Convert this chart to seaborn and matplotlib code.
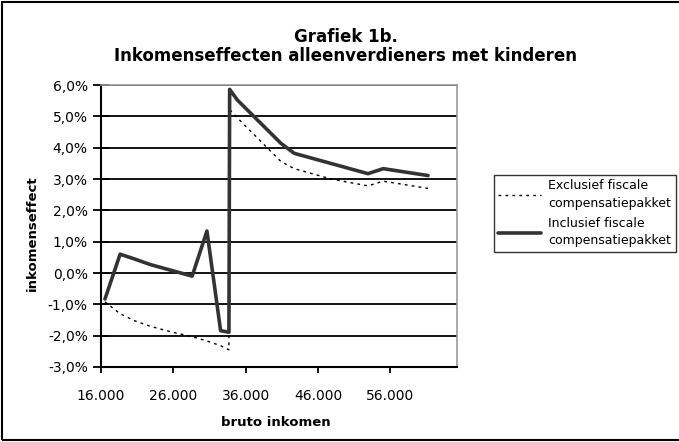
import matplotlib
matplotlib.use("Agg")
import numpy as np
import pandas as pd
import matplotlib.pyplot as plt
import seaborn as sns
from matplotlib.ticker import FuncFormatter, MultipleLocator
from matplotlib.patches import Rectangle

# values (bruto inkomen, inkomenseffect in %)
income_excl = [16550, 18640, 20600, 22800, 25700, 28600, 30640, 32530, 33680,
               33780, 34850, 40860, 42700, 47800, 52900, 55000, 61200]
effect_excl = [-0.92, -1.30, -1.52, -1.70, -1.88, -2.03, -2.17, -2.32, -2.45,
               5.22, 4.95, 3.56, 3.33, 3.00, 2.78, 2.93, 2.70]

income_incl = [16550, 18640, 20600, 22800, 28600, 30640, 32530, 33680,
               33780, 34850, 40860, 42700, 52900, 55000, 61200]
effect_incl = [-0.83, 0.60, 0.45, 0.27, -0.10, 1.34, -1.84, -1.89,
               5.86, 5.52, 4.14, 3.82, 3.17, 3.33, 3.11]

x_ticks = [16000, 26000, 36000, 46000, 56000]

label_excl = "Exclusief fiscale\ncompensatiepakket"
label_incl = "Inclusief fiscale\ncompensatiepakket"

sns.set_style("white")
plt.rcParams['font.family'] = ['DejaVu Sans']
plt.rcParams.update({'text.color': 'black', 'axes.labelcolor': 'black',
                     'xtick.color': 'black', 'ytick.color': 'black'})

fig = plt.figure(figsize=(6.79, 4.42), dpi=100)
ax = fig.add_axes([101/679, 1 - 367/442, 356/679, 282/442])

df_excl = pd.DataFrame({'x': income_excl, 'y': effect_excl})
df_incl = pd.DataFrame({'x': income_incl, 'y': effect_incl})

sns.lineplot(data=df_excl, x='x', y='y', ax=ax, estimator=None, sort=False,
             color='black', linewidth=1.0, linestyle=(0, (2, 3)),
             label=label_excl, legend=False)
sns.lineplot(data=df_incl, x='x', y='y', ax=ax, estimator=None, sort=False,
             color='#333333', linewidth=2.6, label=label_incl, legend=False)

ax.set_xlim(16000, 65200)
ax.set_ylim(-3, 6)
ax.set_xticks(x_ticks)
ax.yaxis.set_major_locator(MultipleLocator(1))
ax.xaxis.set_major_formatter(FuncFormatter(lambda v, p: f"{int(v/1000)}.000"))
ax.yaxis.set_major_formatter(FuncFormatter(lambda v, p: f"{v:.1f}%".replace('.', ',')))
ax.grid(axis='y', color='black', linewidth=1.3)
ax.set_axisbelow(True)

for s in ['left', 'bottom']:
    ax.spines[s].set_color('black')
    ax.spines[s].set_linewidth(1.5)
for s in ['top', 'right']:
    ax.spines[s].set_color('#999999')
    ax.spines[s].set_linewidth(1.2)

ax.tick_params(axis='y', direction='inout', length=11, width=1.3,
               labelsize=10, pad=4, left=True)
ax.tick_params(axis='x', direction='out', length=4.5, width=1.3,
               labelsize=10, pad=11, bottom=True)

ax.set_xlabel("bruto inkomen", fontsize=9.5, fontweight='bold')
ax.set_ylabel("inkomenseffect", fontsize=9.5, fontweight='bold')
ax.xaxis.label.set_va('center')
ax.yaxis.label.set_va('center')
ax.xaxis.set_label_coords((276 - 101) / 356, (367 - 423) / 282)
ax.yaxis.set_label_coords((32 - 101) / 356, (367 - 233) / 282)

fig.text(346/679, 1 - 37/442, "Grafiek 1b.", ha='center', va='center',
         fontsize=12, fontweight='bold')
fig.text(346/679, 1 - 56/442, "Inkomenseffecten alleenverdieners met kinderen",
         ha='center', va='center', fontsize=12, fontweight='bold')

handles, labels = ax.get_legend_handles_labels()
leg = fig.legend(handles, labels, loc='upper left',
                 bbox_to_anchor=(494/679, 1 - 175/442), fontsize=9,
                 frameon=True, fancybox=False, edgecolor='black',
                 handlelength=3.4, handletextpad=0.6, borderpad=0.35,
                 labelspacing=0.55, borderaxespad=0)
leg.get_frame().set_linewidth(1.0)
for t in leg.get_texts():
    t.set_linespacing(1.45)

fig.patches.append(Rectangle((0.003, 0.004), 1.1, 0.992, transform=fig.transFigure,
                             fill=False, edgecolor='black', linewidth=1.5))

fig.savefig("out.png", dpi=100, facecolor='white')
